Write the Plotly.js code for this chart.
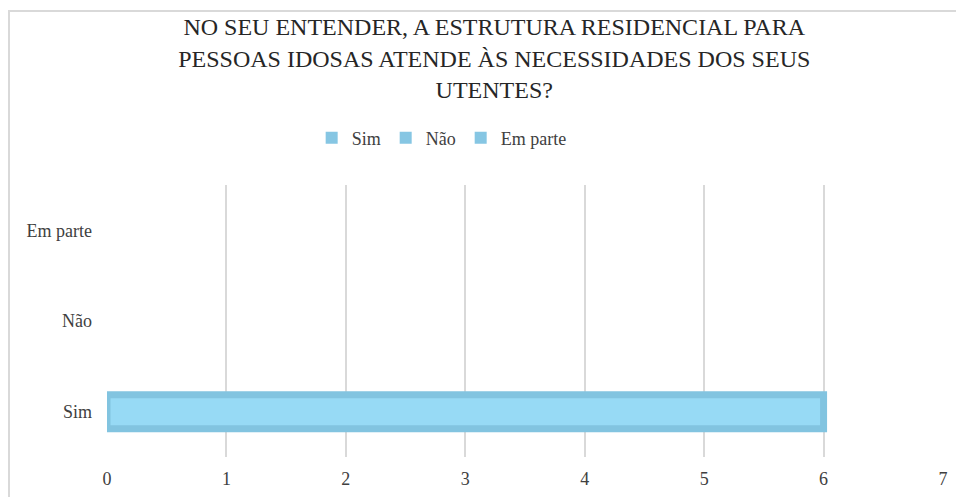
<!DOCTYPE html>
<html>
<head>
<meta charset="utf-8">
<script src="https://cdn.plot.ly/plotly-3.0.1.min.js"></script>
<style>
  html, body { margin: 0; padding: 0; background: #ffffff; overflow: hidden; }
  #chart { position: absolute; left: 0; top: 0; width: 956px; height: 497px; }
  #frame { position: absolute; left: 8px; top: 10px; width: 1000px; height: 600px;
           border-top: 2px solid #d9d9d9; border-left: 2px solid #d9d9d9; pointer-events: none; }
</style>
</head>
<body>
<div id="chart"></div>
<div id="frame"></div>
<script>
const titleLines = [
  "NO SEU ENTENDER, A ESTRUTURA RESIDENCIAL PARA",
  "PESSOAS IDOSAS ATENDE ÀS NECESSIDADES DOS SEUS",
  "UTENTES?"
];
const categories = ["Sim", "Não", "Em parte"];
const seriesNames = ["Sim", "Não", "Em parte"];
const values = [6, 0, 0];
const xTicks = [0, 1, 2, 3, 4, 5, 6, 7];

const serif = "Liberation Serif, Times New Roman, serif";
const fillColor = "#97DAF5";
const edgeColor = "#82C4E0";
const legendColor = "#86C6E3";

// legend-carrying bars (plain squares in the legend)
const traces = seriesNames.map((name, i) => ({
  type: "bar",
  orientation: "h",
  name: name,
  y: [categories[i]],
  x: [values[i]],
  width: 0.375,
  marker: { color: legendColor, line: { width: 0 } },
  hoverinfo: "x+y"
}));
// styled bar drawn on top (fill + thick outline) from the same data
traces.push({
  type: "bar",
  orientation: "h",
  name: seriesNames[0],
  showlegend: false,
  y: [categories[0]],
  x: [values[0]],
  width: 0.375,
  marker: { color: fillColor, line: { color: edgeColor, width: 7 } },
  hoverinfo: "x+y"
});

const layout = {
  width: 956,
  height: 497,
  paper_bgcolor: "rgba(0,0,0,0)",
  plot_bgcolor: "rgba(0,0,0,0)",
  margin: { l: 107, r: 13, t: 185, b: 40 },
  barmode: "overlay",
  font: { family: serif, color: "#404040", size: 18 },
  title: {
    text: titleLines.map(t => "<span style='font-size:24px'>" + t + "</span>").join("<br>"),
    font: { family: serif, size: 24.3, color: "#262626" },
    x: 0.517, xanchor: "center", xref: "container",
    y: 0.929, yanchor: "top", yref: "container"
  },
  showlegend: true,
  legend: {
    orientation: "h",
    x: 0.462, xanchor: "center", xref: "container",
    y: 0.722, yanchor: "middle", yref: "container",
    font: { family: serif, size: 18, color: "#404040" },
    itemwidth: 30,
    traceorder: "normal",
    bgcolor: "rgba(0,0,0,0)"
  },
  xaxis: {
    range: [0, 7],
    tickvals: xTicks,
    ticktext: xTicks.map(String),
    showgrid: true,
    gridcolor: "#d9d9d9",
    gridwidth: 2,
    zeroline: false,
    showline: false,
    ticks: "",
    ticklabelstandoff: 9,
    tickfont: { family: serif, size: 18, color: "#404040" },
    fixedrange: true
  },
  yaxis: {
    type: "category",
    categoryorder: "array",
    categoryarray: categories,
    showgrid: false,
    zeroline: false,
    showline: false,
    ticks: "",
    ticklabelstandoff: 14,
    tickfont: { family: serif, size: 18, color: "#404040" },
    fixedrange: true
  }
};

Plotly.newPlot("chart", traces, layout, { displayModeBar: false, staticPlot: true });
</script>
</body>
</html>
